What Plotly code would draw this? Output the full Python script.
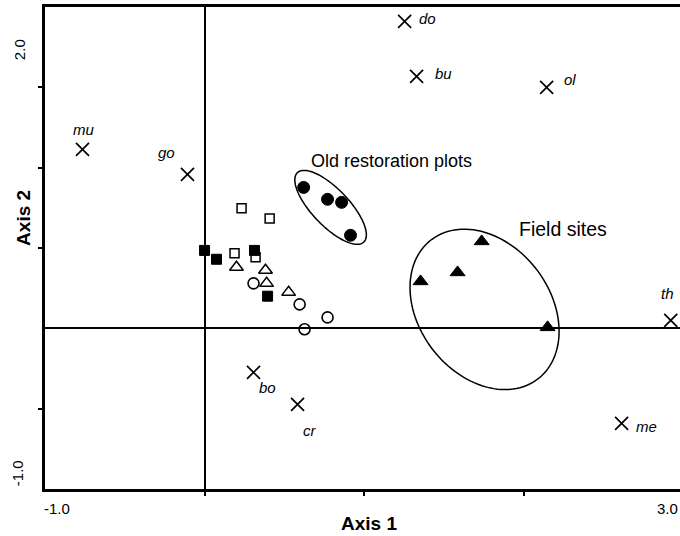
import numpy as np
import plotly.graph_objects as go

# ---- data (ordination scores) ----
filled_sq_x = [0.00, 0.075, 0.313, 0.395]
filled_sq_y = [0.485, 0.43, 0.485, 0.20]
open_sq_x = [0.232, 0.408, 0.188, 0.32]
open_sq_y = [0.747, 0.684, 0.467, 0.442]
open_tri_x = [0.20, 0.382, 0.389, 0.527]
open_tri_y = [0.38, 0.361, 0.28, 0.224]
open_circ_x = [0.307, 0.596, 0.771, 0.627]
open_circ_y = [0.28, 0.149, 0.068, -0.006]
old_x = [0.621, 0.771, 0.859, 0.915]
old_y = [0.877, 0.803, 0.784, 0.579]
field_x = [1.737, 1.586, 1.354, 2.15]
field_y = [0.541, 0.348, 0.292, 0.006]

species = ["mu", "go", "do", "bu", "ol", "th", "me", "bo", "cr"]
species_x = [-0.765, -0.107, 1.254, 1.329, 2.144, 2.922, 2.614, 0.307, 0.583]
species_y = [1.114, 0.958, 1.91, 1.568, 1.50, 0.05, -0.591, -0.274, -0.473]
# label offsets in pixels (dx, dy up)
label_dx = [1, -21, 23, 27, 23, -3, 25, 14, 12]
label_dy = [20, 22, 3, 3, 8, 27, -3, -15, -26]

# ellipses: center x, center y, semi-major, semi-minor, angle (deg)
old_ell = [0.79, 0.753, 0.30, 0.115, -46]
field_ell = [1.755, 0.118, 0.547, 0.41, -51.8]

x_range = [-1.0, 2.98]
y_range = [-1.0, 2.0]

fig = go.Figure()

def add(x, y, symbol, size, color="black", lw=1.5):
    fig.add_trace(go.Scatter(
        x=x, y=y, mode="markers", showlegend=False, hoverinfo="skip", cliponaxis=False,
        marker=dict(symbol=symbol, size=size, color=color,
                    line=dict(color="black", width=lw))))

def ellipse_path(p):
    cx, cy, a, b, ang = p
    t = np.linspace(0, 2 * np.pi, 120)
    th = np.deg2rad(ang)
    xs = cx + a * np.cos(t) * np.cos(th) - b * np.sin(t) * np.sin(th)
    ys = cy + a * np.cos(t) * np.sin(th) + b * np.sin(t) * np.cos(th)
    path = "M " + " L ".join(f"{x:.4f},{y:.4f}" for x, y in zip(xs, ys)) + " Z"
    return path

for p in (old_ell, field_ell):
    fig.add_shape(type="path", path=ellipse_path(p), xref="x", yref="y",
                  line=dict(color="black", width=1.5), fillcolor="rgba(0,0,0,0)")

add(filled_sq_x, filled_sq_y, "square", 10, "black", 1)
add(open_sq_x, open_sq_y, "square-open", 9, "black", 1.5)
add(open_tri_x, open_tri_y, "triangle-up-open", 12, "black", 1.5)
add(open_circ_x, open_circ_y, "circle-open", 11, "black", 1.6)
add(old_x, old_y, "circle", 12, "black", 1)
add(field_x, field_y, "triangle-up", 13, "black", 1)
add(species_x, species_y, "x-thin-open", 13, "black", 1.7)

tick_font = dict(family="Liberation Sans Narrow, Liberation Sans, Arial", size=15, color="black")
old_font = dict(family="Liberation Sans, Arial", size=18, color="black")
field_font = dict(family="Liberation Sans, Arial", size=19.5, color="black")
title_font = dict(family="Liberation Sans, Arial", size=19, color="black")
ann = []
for s, x, y, dx, dy in zip(species, species_x, species_y, label_dx, label_dy):
    ann.append(dict(x=x, y=y, xref="x", yref="y", text=f"<i>{s}</i>", showarrow=False,
                    xshift=dx, yshift=dy, xanchor="center", yanchor="middle",
                    font=dict(family="Liberation Sans, Arial", size=15, color="black")))

def pann(x, y, text, font, angle=0):
    return dict(x=x, y=y, xref="paper", yref="paper", text=text, showarrow=False,
                xanchor="center", yanchor="middle", textangle=angle, font=font)

ann += [
    pann(0.019, -0.04, "-1.0", tick_font),
    pann(0.981, -0.04, "3.0", tick_font),
    pann(-0.039, 0.911, "2.0", tick_font, -90),
    pann(-0.044, 0.033, "-1.0", tick_font, -90),
    pann(0.51, -0.072, "<b>Axis 1</b>", title_font),
    pann(-0.035, 0.562, "<b>Axis 2</b>", title_font, -90),
    pann(0.546, 0.680, "Old restoration plots", old_font),
    pann(0.815, 0.539, "Field sites", field_font),
]

fig.update_layout(
    width=680, height=536,
    margin=dict(l=45, r=0, t=7, b=47, autoexpand=False),
    paper_bgcolor="white", plot_bgcolor="white",
    annotations=ann,
    xaxis=dict(range=x_range, showgrid=False, zeroline=True, zerolinecolor="black", zerolinewidth=2,
               showline=True, linecolor="black", linewidth=2.5, mirror=True,
               tickvals=[0, 1, 2], ticks="outside", ticklen=4, tickwidth=1.5, tickcolor="black",
               showticklabels=False),
    yaxis=dict(range=y_range, showgrid=False, zeroline=True, zerolinecolor="black", zerolinewidth=2,
               showline=True, linecolor="black", linewidth=2.5,
               tickvals=[-0.5, 0.5, 1.0, 1.5], ticks="outside", ticklen=4, tickwidth=1.5, tickcolor="black",
               showticklabels=False),
)

fig.write_html("out.html", config={"displayModeBar": False},
               post_script="document.body.style.margin='0';document.body.style.overflow='hidden';")
